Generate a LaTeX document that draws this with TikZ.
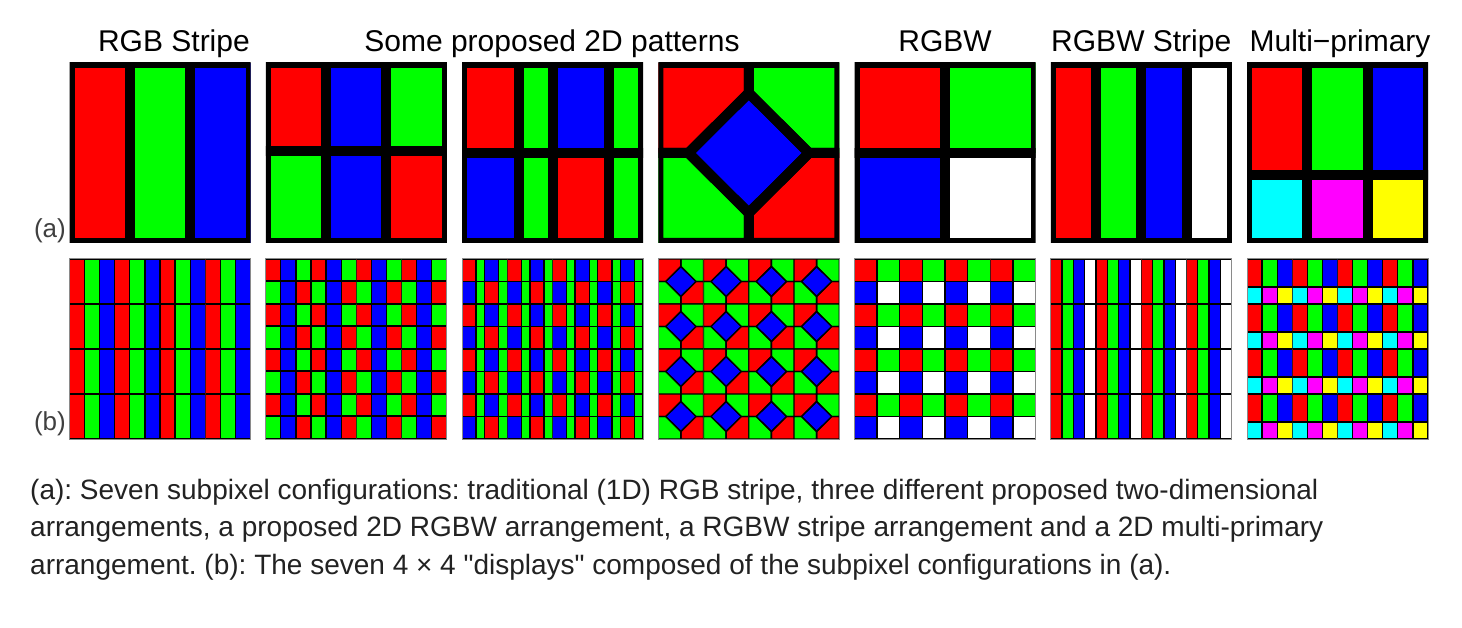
\documentclass[tikz,border=0pt]{standalone}
\usepackage{fontspec}
\setmainfont{Liberation Sans}
\usetikzlibrary{positioning}
\definecolor{rojo}{HTML}{FF0000}
\definecolor{verde}{HTML}{00FF00}
\definecolor{azul}{HTML}{0000FF}
\definecolor{cian}{HTML}{00FFFF}
\definecolor{magen}{HTML}{FF00FF}
\definecolor{amarillo}{HTML}{FFFF00}
\definecolor{texto}{HTML}{222222}
\definecolor{marco}{HTML}{8A8A8A}
\tikzset{relleno/.style={fill=#1,draw=none},
         borde/.style={draw=black,fill=none}}
% patrones de subpixel en coordenadas unitarias (y hacia abajo)
\newcommand\patRGB[1]{%
  \path[#1=rojo] (0,0) rectangle (1/3,1);
  \path[#1=verde] (1/3,0) rectangle (2/3,1);
  \path[#1=azul] (2/3,0) rectangle (1,1);}
\newcommand\patDosA[1]{%
  \path[#1=rojo] (0,0) rectangle (1/3,0.49);
  \path[#1=azul] (1/3,0) rectangle (2/3,0.49);
  \path[#1=verde] (2/3,0) rectangle (1,0.49);
  \path[#1=verde] (0,0.49) rectangle (1/3,1);
  \path[#1=azul] (1/3,0.49) rectangle (2/3,1);
  \path[#1=rojo] (2/3,0.49) rectangle (1,1);}
\newcommand\patDosB[1]{%
  \path[#1=rojo] (0,0) rectangle (5/16,0.5);
  \path[#1=verde] (5/16,0) rectangle (8/16,0.5);
  \path[#1=azul] (8/16,0) rectangle (13/16,0.5);
  \path[#1=verde] (13/16,0) rectangle (1,0.5);
  \path[#1=azul] (0,0.5) rectangle (5/16,1);
  \path[#1=verde] (5/16,0.5) rectangle (8/16,1);
  \path[#1=rojo] (8/16,0.5) rectangle (13/16,1);
  \path[#1=verde] (13/16,0.5) rectangle (1,1);}
\newcommand\patRombo[1]{%
  \path[#1=rojo] (0,0) -- (0.5,0) -- (0.5,1/6) -- (1/6,0.5) -- (0,0.5) -- cycle;
  \path[#1=verde] (0.5,0) -- (1,0) -- (1,0.5) -- (5/6,0.5) -- (0.5,1/6) -- cycle;
  \path[#1=verde] (0,0.5) -- (1/6,0.5) -- (0.5,5/6) -- (0.5,1) -- (0,1) -- cycle;
  \path[#1=rojo] (5/6,0.5) -- (1,0.5) -- (1,1) -- (0.5,1) -- (0.5,5/6) -- cycle;
  \path[#1=azul] (0.5,1/6) -- (5/6,0.5) -- (0.5,5/6) -- (1/6,0.5) -- cycle;}
\newcommand\patRGBW[1]{%
  \path[#1=rojo] (0,0) rectangle (0.5,0.5);
  \path[#1=verde] (0.5,0) rectangle (1,0.5);
  \path[#1=azul] (0,0.5) rectangle (0.5,1);
  \path[#1=white] (0.5,0.5) rectangle (1,1);}
\newcommand\patRGBWs[1]{%
  \path[#1=rojo] (0,0) rectangle (0.25,1);
  \path[#1=verde] (0.25,0) rectangle (0.5,1);
  \path[#1=azul] (0.5,0) rectangle (0.75,1);
  \path[#1=white] (0.75,0) rectangle (1,1);}
\newcommand\patMulti[1]{%
  \path[#1=rojo] (0,0) rectangle (1/3,0.62);
  \path[#1=verde] (1/3,0) rectangle (2/3,0.62);
  \path[#1=azul] (2/3,0) rectangle (1,0.62);
  \path[#1=cian] (0,0.62) rectangle (1/3,1);
  \path[#1=magen] (1/3,0.62) rectangle (2/3,1);
  \path[#1=amarillo] (2/3,0.62) rectangle (1,1);}
% un subpixel grande (fila a) y una pantalla 4x4 (fila b)
\newcommand\panel[3]{%
  \begin{scope}[shift={(#1,#2)},x=181pt,y=-180pt,line width=10pt]
    \clip (0,0) rectangle (1,1);
    #3{relleno} #3{borde}
  \end{scope}}
\newcommand\pantalla[3]{%
  \foreach \i in {0,...,3}{\foreach \j in {0,...,3}{
    \begin{scope}[shift={(#1+\i*45.25,#2+\j*45)},x=45.25pt,y=-45pt,line width=1.3pt]
      \clip (0,0) rectangle (1,1);
      #3{relleno} #3{borde}
    \end{scope}}}
  \draw[marco,line width=1pt] (#1,#2) rectangle ++(181,180);}

\begin{document}
\begin{tikzpicture}[x=1pt,y=-1pt,
    titulo/.style={font=\fontsize{30}{36}\selectfont,inner sep=0pt},
    etiqueta/.style={font=\fontsize{26}{30}\selectfont,inner sep=0pt,anchor=base east,text=black!75},
    leyenda/.style={font=\fontsize{28}{34}\selectfont\frenchspacing,inner sep=0pt,anchor=base west,text=texto}]
  \fill[white] (0,0) rectangle (1462,628);
  \useasboundingbox (0,0) rectangle (1462,628);

  % fila (a)
  \panel{69.5}{63}{\patRGB}
  \panel{265.75}{63}{\patDosA}
  \panel{462}{63}{\patDosB}
  \panel{658.25}{63}{\patRombo}
  \panel{854.5}{63}{\patRGBW}
  \panel{1050.75}{63}{\patRGBWs}
  \panel{1247}{63}{\patMulti}

  % fila (b)
  \pantalla{69.5}{259}{\patRGB}
  \pantalla{265.75}{259}{\patDosA}
  \pantalla{462}{259}{\patDosB}
  \pantalla{658.25}{259}{\patRombo}
  \pantalla{854.5}{259}{\patRGBW}
  \pantalla{1050.75}{259}{\patRGBWs}
  \pantalla{1247}{259}{\patMulti}

  \node[titulo,anchor=base east] (tStripe) at (250,52) {RGB Stripe};
  \node[titulo,anchor=base] (tPatrones) at (552,52) {Some proposed 2D patterns};
  \node[titulo,anchor=base] (tRGBW) at (945,52) {RGBW};
  \node[titulo,anchor=base] (tRGBWs) at (1141.25,52) {RGBW Stripe};
  \node[titulo,anchor=base] (tMulti) at (1340,52) {Multi−primary};

  \node[etiqueta] (la) at (66,238) {(a)};
  \node[etiqueta] (lb) at (66,430.5) {(b)};

  \node[leyenda] (cap1) at (30,499) {(a): Seven subpixel configurations: traditional (1D) RGB stripe, three different proposed two-dimensional};
  \node[leyenda] (cap2) at (30,536.5) {arrangements, a proposed 2D RGBW arrangement, a RGBW stripe arrangement and a 2D multi-primary};
  \node[leyenda] (cap3) at (30,574) {arrangement. (b): The seven 4 × 4 \textquotedbl displays\textquotedbl{} composed of the subpixel configurations in (a).};
\end{tikzpicture}
\end{document}
